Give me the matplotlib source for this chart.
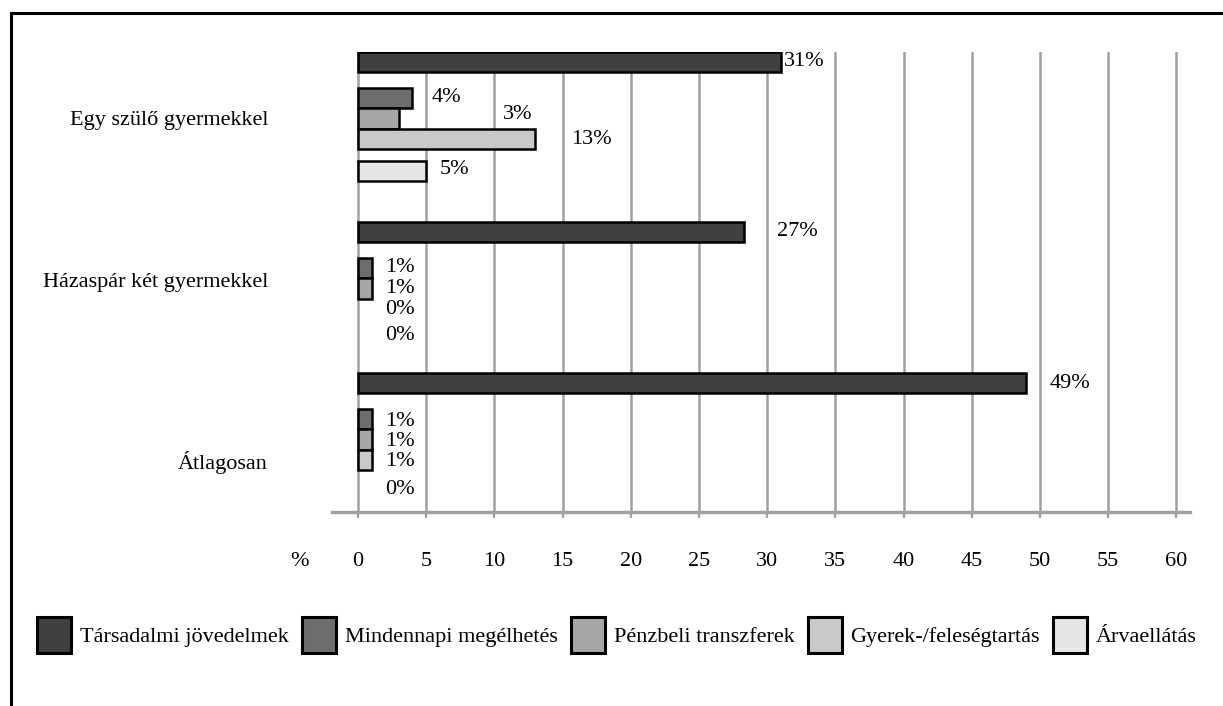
import matplotlib
matplotlib.use("Agg")
import matplotlib.pyplot as plt
from matplotlib.patches import Patch
from matplotlib.lines import Line2D

plt.rcParams['font.family'] = ['Liberation Serif', 'DejaVu Serif']

# ---- data ----
categories = ["Egy szülő gyermekkel", "Házaspár két gyermekkel", "Átlagosan"]
series_names = ["Társadalmi jövedelmek", "Mindennapi megélhetés", "Pénzbeli transzferek",
                "Gyerek-/feleségtartás", "Árvaellátás"]
social = [31, 28.3, 49]
daily = [4, 1, 1]
transfer = [3, 1, 1]
alimony = [13, 0, 1]
orphan = [5, 0, 0]
social_labels = ["31%", "27%", "49%"]
daily_labels = ["4%", "1%", "1%"]
transfer_labels = ["3%", "1%", "1%"]
alimony_labels = ["13%", "0%", "1%"]
orphan_labels = ["5%", "0%", "0%"]
xticks = [0, 5, 10, 15, 20, 25, 30, 35, 40, 45, 50, 55, 60]

# ---- layout / style ----
W, H = 1223, 706
colors = ["#404042", "#6d6d70", "#a6a6a8", "#c9c9ca", "#e6e6e7"]
group_pos = [10, 180, 331]            # vertical position of first bar in each group (axis units)
series_off = [0, 36, 56.5, 77, 109]   # offset of each series inside a group
cat_label_pos = [66, 228, 408]
bar_h = 20.5
# horizontal label padding (data units) per group/series
label_pad = [[0.2, 1.4, 7.6, 2.6, 1.0],
             [2.4, 1.0, 1.0, 2.0, 2.0],
             [1.7, 1.0, 1.0, 1.0, 2.0]]
label_dy = [[0, 0, -4, 1, -1],
            [0, 0, 0, 0, -6],
            [0, 2, 2, 2, -2]]
FS = 16
grid_col = "#a0a0a2"

fig = plt.figure(figsize=(W / 100, H / 100), dpi=100)
ax = fig.add_axes([332 / W, 1 - 512 / H, (1190 - 332) / W, (512 - 52) / H])

all_vals = [social, daily, transfer, alimony, orphan]
all_labels = [social_labels, daily_labels, transfer_labels, alimony_labels, orphan_labels]

for s, (vals, labs) in enumerate(zip(all_vals, all_labels)):
    ys = [g + series_off[s] for g in group_pos]
    for gi, (y, v) in enumerate(zip(ys, vals)):
        if v > 0:
            ax.barh(y, v, height=bar_h, color=colors[s], edgecolor="black",
                    linewidth=1.8, zorder=3)
        ax.text(v + label_pad[gi][s], y + label_dy[gi][s], labs[gi],
                ha="left", va="center", fontsize=FS, zorder=4)

ax.set_xlim(-1.9, 61.0)
ax.set_ylim(460, 0)
ax.set_xticks(xticks)
ax.set_xticklabels([str(t) for t in xticks], fontsize=FS)
ax.set_yticks(cat_label_pos)
ax.set_yticklabels(categories, fontsize=FS)
ax.tick_params(axis="y", length=0, pad=46)
ax.tick_params(axis="x", direction="out", length=4, width=1.6, color=grid_col, pad=25)
ax.grid(axis="x", color=grid_col, linewidth=1.8, zorder=0)
ax.set_axisbelow(True)
for sp in ["top", "right", "left"]:
    ax.spines[sp].set_visible(False)
ax.spines["bottom"].set_color(grid_col)
ax.spines["bottom"].set_linewidth(2.4)

ax.annotate("%", xy=(-4.3, 0), xycoords=("data", "axes fraction"),
            xytext=(0, -(4 + 25)), textcoords="offset points",
            ha="center", va="top", fontsize=FS, annotation_clip=False)

handles = [Patch(facecolor=c, edgecolor="black", linewidth=2.2) for c in colors]
fig.legend(handles, series_names, loc="center", ncol=5, frameon=False,
           bbox_to_anchor=(37 / W, 1 - 660 / H, 1160 / W, 50 / H), mode="expand",
           handlelength=1.53, handleheight=2.05, handletextpad=0.4, fontsize=FS,
           borderaxespad=0, borderpad=0)

# figure frame (top and left)
fig.add_artist(Line2D([11 / W, 1], [1 - 13 / H, 1 - 13 / H], color="black", linewidth=2.2))
fig.add_artist(Line2D([11 / W, 11 / W], [1 - 13 / H, 0], color="black", linewidth=2.2))

fig.savefig("out.png", dpi=100)
